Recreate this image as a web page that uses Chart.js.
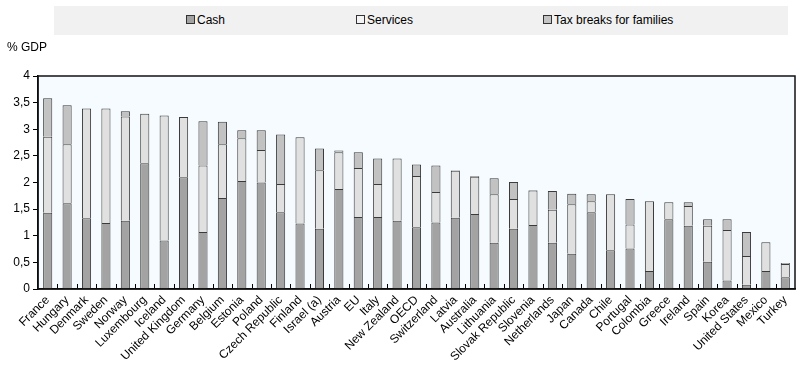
<!DOCTYPE html>
<html><head><meta charset="utf-8">
<script src="https://cdn.jsdelivr.net/npm/chart.js@4"></script>
<style>
html,body{margin:0;padding:0;background:#fff;}
#wrap{position:relative;width:812px;height:375px;font-family:"Liberation Sans",Arial,sans-serif;}
#legend{position:absolute;left:54px;top:6px;width:734px;height:29px;background:#f1f1f1;}
.li{position:absolute;top:8px;font-size:12px;color:#000;line-height:13px;white-space:nowrap;}
.li span{display:inline-block;width:7px;height:7px;border:1px solid #333;margin-right:2px;vertical-align:0px;}
#unit{position:absolute;left:7px;top:40px;font-size:12px;color:#000;}
canvas{position:absolute;left:0;top:0;}
</style></head><body>
<div id="wrap">
<canvas id="c" width="812" height="375"></canvas>
<div id="legend">
 <div class="li" style="left:132px"><span style="background:#a3a3a3"></span>Cash</div>
 <div class="li" style="left:302px"><span style="background:#f4f4f4"></span>Services</div>
 <div class="li" style="left:489px"><span style="background:#c4c4c4"></span>Tax breaks for families</div>
</div>
<div id="unit">% GDP</div>
</div>
<script>
const categories = ["France","Hungary","Denmark","Sweden","Norway","Luxembourg","Iceland","United Kingdom","Germany","Belgium","Estonia","Poland","Czech Republic","Finland","Israel (a)","Austria","EU","Italy","New Zealand","OECD","Switzerland","Latvia","Australia","Lithuania","Slovak Republic","Slovenia","Netherlands","Japan","Canada","Chile","Portugal","Colombia","Greece","Ireland","Spain","Korea","United States","Mexico","Turkey"];
const cash = [1.43,1.61,1.33,1.24,1.28,2.36,0.91,2.10,1.07,1.71,2.03,2.00,1.44,1.23,1.13,1.88,1.35,1.35,1.28,1.16,1.25,1.34,1.41,0.87,1.13,1.20,0.87,0.66,1.44,0.73,0.76,0.34,1.31,1.19,0.51,0.16,0.08,0.34,0.22];
const services = [1.43,1.11,2.06,2.15,1.96,0.93,2.35,1.13,1.25,1.01,0.80,0.61,0.53,1.62,1.10,0.69,0.92,0.62,1.17,0.96,0.57,0.88,0.70,0.91,0.56,0.65,0.62,0.93,0.21,1.05,0.45,1.31,0.32,0.37,0.68,0.95,0.54,0.54,0.25];
const taxBreaks = [0.72,0.73,0,0,0.10,0,0,0,0.83,0.42,0.15,0.37,0.93,0,0.41,0.03,0.30,0.48,0,0.22,0.50,0.01,0.01,0.30,0.32,0.01,0.35,0.20,0.13,0,0.48,0,0,0.07,0.12,0.20,0.45,0,0.02];
const yTicks = [0,0.5,1,1.5,2,2.5,3,3.5,4];

const FONT = {family:'"Liberation Sans", Arial, sans-serif', size:12};

const framePlugin = {
  id:'frame',
  beforeDraw(chart){
    const {ctx, chartArea:a} = chart;
    ctx.save(); ctx.fillStyle='#f5fbfe'; ctx.fillRect(a.left,a.top,a.right-a.left,a.bottom-a.top); ctx.restore();
  },
  afterDraw(chart){
    const {ctx, chartArea:a} = chart;
    const x = chart.scales.x;
    ctx.save();
    ctx.strokeStyle='#000'; ctx.lineWidth=1;
    // inner x ticks between categories
    for(let i=1;i<categories.length;i++){
      const px = Math.round((x.getPixelForValue(i-1)+x.getPixelForValue(i))/2)+0.5;
      ctx.beginPath(); ctx.moveTo(px,a.bottom); ctx.lineTo(px,a.bottom-5); ctx.stroke();
    }
    ctx.lineWidth=1.5; ctx.strokeStyle='#111';
    ctx.strokeRect(a.left,a.top,a.right-a.left,a.bottom-a.top);
    ctx.restore();
  }
};

new Chart(document.getElementById('c'), {
  type:'bar',
  data:{
    labels:categories,
    datasets:[
      {label:'Cash', data:cash, backgroundColor:'#a3a3a3', borderColor:'#3a3a3a', borderWidth:1},
      {label:'Services', data:services, backgroundColor:'#e0e0e0', borderColor:'#3a3a3a', borderWidth:1},
      {label:'Tax breaks for families', data:taxBreaks, backgroundColor:'#c2c2c2', borderColor:'#3a3a3a', borderWidth:1}
    ]
  },
  options:{
    responsive:false, animation:false, devicePixelRatio:1,
    layout:{padding:{top:76,right:17,left:0,bottom:0}},
    datasets:{bar:{barPercentage:0.47,categoryPercentage:1}},
    plugins:{legend:{display:false}, tooltip:{enabled:false}},
    scales:{
      x:{stacked:true,
         grid:{display:false, drawTicks:false},
         border:{display:true,color:'#000',width:1.5},
         ticks:{autoSkip:false, maxRotation:45, minRotation:45, color:'#000', font:FONT, padding:4},
         afterFit(s){ s.height = 86; }
      },
      y:{stacked:true, min:0, max:4,
         grid:{drawOnChartArea:false, drawTicks:true, tickLength:5, color:'#000'},
         border:{display:true,color:'#000',width:1.5},
         afterBuildTicks(s){ s.ticks = yTicks.map(v=>({value:v})); },
         ticks:{color:'#000', font:FONT, padding:3, callback:v=>String(v).replace('.',',')},
         afterFit(s){ s.width = 38; }
      }
    }
  },
  plugins:[framePlugin]
});
</script>
</body></html>
